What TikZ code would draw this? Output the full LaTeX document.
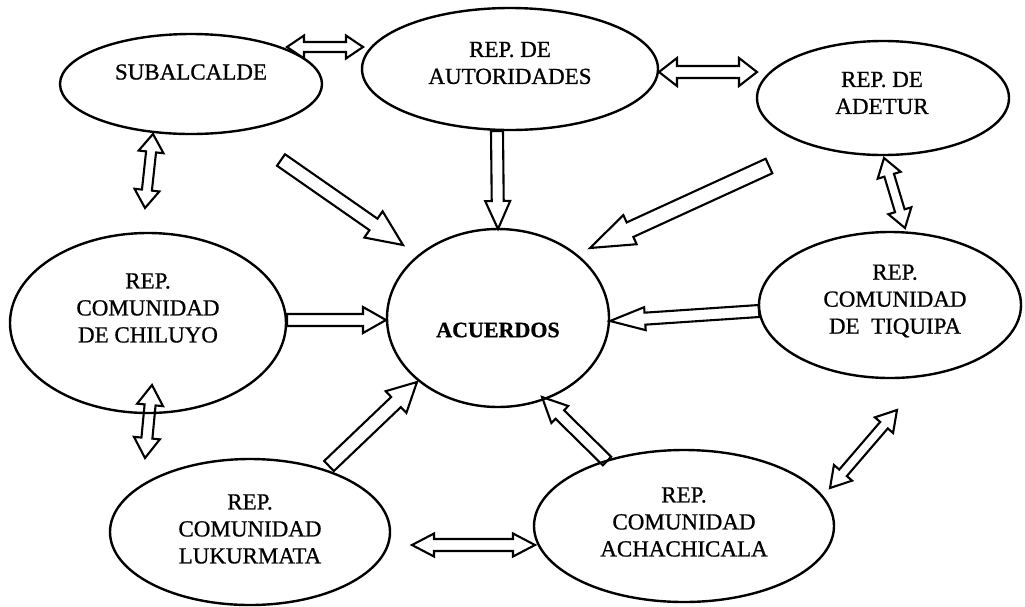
\documentclass[tikz,border=0pt]{standalone}
\usepackage{fontspec}
\setmainfont{Liberation Serif}[FakeBold=0.8]
\usetikzlibrary{shapes.geometric,calc}

\tikzset{
  actor/.style={draw, ellipse, line width=2.4pt, inner sep=0pt},
  lbl/.style={font=\fontsize{23}{27}\selectfont, align=center, inner sep=0pt},
  hub/.style={font=\fontsize{22}{26}\selectfont\bfseries, inner sep=0pt},
  blockarrow/.style={draw, line width=2.1pt, line join=miter},
}

% hollow block arrow: tail, tip, shaft half-width, head half-width, head length
\newcommand\onewayarrow[5]{%
  \coordinate (hb) at ($(#2)!#5!(#1)$);
  \draw[blockarrow] ($(#1)!#3!90:(#2)$) -- ($(hb)!#3!-90:(#1)$)
    -- ($(hb)!#4!-90:(#1)$) -- (#2) -- ($(hb)!#4!90:(#1)$)
    -- ($(hb)!#3!90:(#1)$) -- ($(#1)!#3!-90:(#2)$) -- cycle;
}
% hollow double-headed block arrow between two ends
\newcommand\twowayarrow[5]{%
  \coordinate (hba) at ($(#1)!#5!(#2)$);
  \coordinate (hbb) at ($(#2)!#5!(#1)$);
  \draw[blockarrow] (#1) -- ($(hba)!#4!90:(#2)$) -- ($(hba)!#3!90:(#2)$)
    -- ($(hbb)!#3!-90:(#1)$) -- ($(hbb)!#4!-90:(#1)$) -- (#2)
    -- ($(hbb)!#4!90:(#1)$) -- ($(hbb)!#3!90:(#1)$)
    -- ($(hba)!#3!-90:(#2)$) -- ($(hba)!#4!-90:(#2)$) -- cycle;
}

\begin{document}
\begin{tikzpicture}[x=1pt, y=-1pt]
\useasboundingbox (0,0) rectangle (1025,606);

% participants
\node[actor, minimum width=262pt, minimum height=100pt] (sub) at (191,84) {};
\node[actor, minimum width=296pt, minimum height=122pt] (aut) at (510,69) {};
\node[actor, minimum width=252pt, minimum height=114pt] (ade) at (883,98) {};
\node[actor, minimum width=276pt, minimum height=180pt] (chil) at (148,323) {};
\node[actor, minimum width=222pt, minimum height=178pt] (acu) at (498,318) {};
\node[actor, minimum width=262pt, minimum height=146pt] (tiq) at (890,305) {};
\node[actor, minimum width=280pt, minimum height=146pt] (luk) at (250,532) {};
\node[actor, minimum width=300pt, minimum height=152pt] (ach) at (684,526) {};

% their labels
\node[lbl] (sub-t) at (191,72) {SUBALCALDE};
\node[lbl] (aut-t) at (510,63) {REP. DE\\AUTORIDADES};
\node[lbl] (ade-t) at (882,93) {REP. DE\\ADETUR};
\node[lbl] (chil-t) at (148,308) {REP.\\COMUNIDAD\\DE CHILUYO};
\node[hub] (acu-t) at (498,330) {ACUERDOS};
\node[lbl] (tiq-t) at (895,301) {REP.\\COMUNIDAD\\DE\ \ TIQUIPA};
\node[lbl] (luk-t) at (250,529) {REP.\\COMUNIDAD\\LUKURMATA};
\node[lbl] (ach-t) at (684,522) {REP.\\COMUNIDAD\\ACHACHICALA};

% arrow ends
\coordinate (sub-e)   at (287,47);
\coordinate (aut-w)   at (363,47);
\coordinate (aut-e)   at (659,72);
\coordinate (ade-w)   at (757,72);
\coordinate (sub-s)   at (153,134);
\coordinate (chil-n)  at (145,208);
\coordinate (sub-o)   at (281,160);
\coordinate (acu-nw)  at (403,245);
\coordinate (aut-s)   at (497,131);
\coordinate (acu-n)   at (498,229);
\coordinate (ade-o)   at (769,166);
\coordinate (acu-ne)  at (590,248);
\coordinate (ade-s)   at (884,158);
\coordinate (tiq-n)   at (905,228);
\coordinate (chil-e)  at (287,320);
\coordinate (acu-w)   at (386,320);
\coordinate (tiq-w)   at (759,311);
\coordinate (acu-e)   at (610,321);
\coordinate (luk-ne)  at (329,466);
\coordinate (acu-sw)  at (417,382);
\coordinate (ach-nw)  at (607,461);
\coordinate (acu-se)  at (542,397);
\coordinate (luk-e)   at (412,545);
\coordinate (ach-w)   at (535,545);
\coordinate (ach-ne)  at (830,488);
\coordinate (tiq-sw)  at (897,410);
\coordinate (chil-s)  at (152,385);
\coordinate (luk-n)   at (145,458);

% exchanges between neighbours
\twowayarrow{sub-e}{aut-w}{5pt}{11.5pt}{17pt}
\twowayarrow{aut-e}{ade-w}{6pt}{14pt}{18pt}
\twowayarrow{sub-s}{chil-n}{5pt}{12.5pt}{18pt}
\twowayarrow{ade-s}{tiq-n}{5pt}{12pt}{18pt}
\twowayarrow{luk-e}{ach-w}{6pt}{11.5pt}{22pt}
\twowayarrow{ach-ne}{tiq-sw}{5pt}{12pt}{20pt}
\twowayarrow{chil-s}{luk-n}{5.5pt}{13pt}{20pt}

% contributions to the agreements
\onewayarrow{sub-o}{acu-nw}{7pt}{16pt}{36pt}
\onewayarrow{aut-s}{acu-n}{6pt}{12.5pt}{28pt}
\onewayarrow{ade-o}{acu-ne}{8pt}{16pt}{44pt}
\onewayarrow{chil-e}{acu-w}{6pt}{13pt}{23pt}
\onewayarrow{tiq-w}{acu-e}{6pt}{11.5pt}{35pt}
\onewayarrow{luk-ne}{acu-sw}{7pt}{15pt}{29pt}
\onewayarrow{ach-nw}{acu-se}{6pt}{12pt}{25pt}
\end{tikzpicture}
\end{document}
